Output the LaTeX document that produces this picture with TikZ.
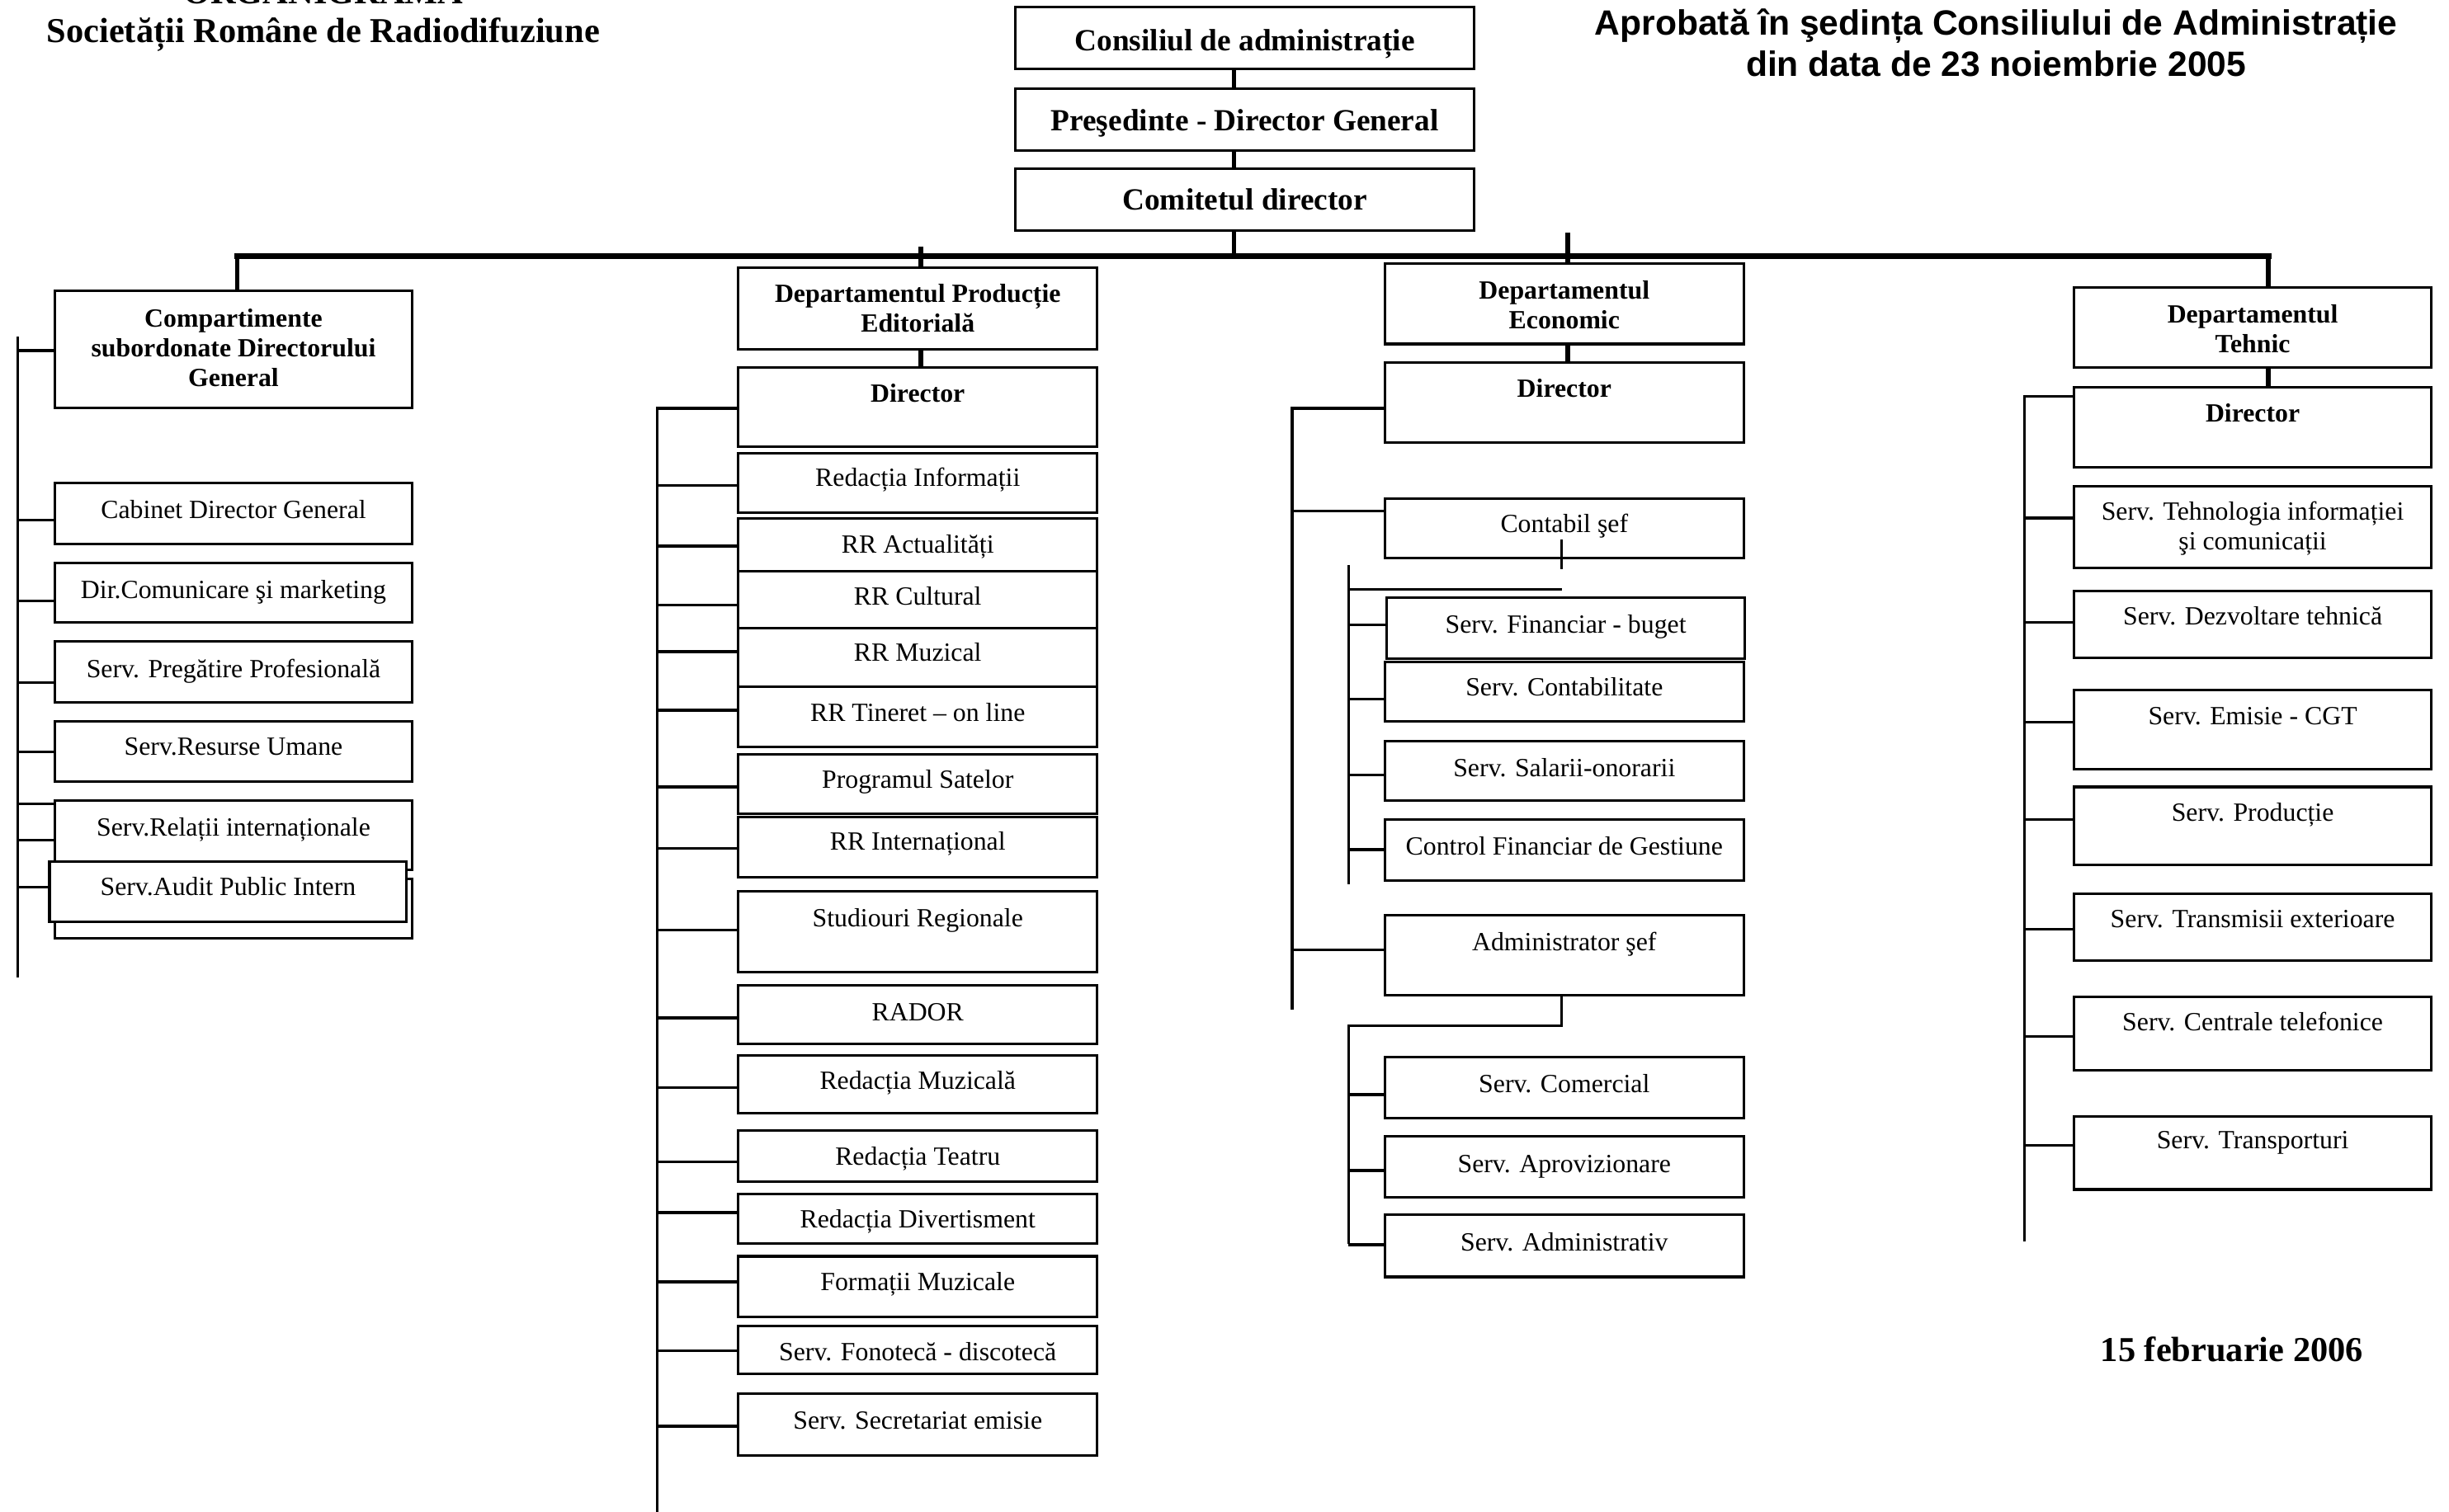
\documentclass[tikz,border=0pt]{standalone}
\usepackage{fontspec}
\setmainfont{Liberation Serif}
\newfontfamily\arialf{Liberation Sans}
\tikzset{
 ob/.style={draw, line width=1.6pt, fill=white, inner sep=0pt, outer sep=0pt, anchor=north west},
 tx/.style={inner sep=0pt, anchor=north, yshift=8.3pt, align=center, font=\fontsize{16.8}{19}\selectfont},
 txb/.style={tx, font=\fontsize{16.8}{19}\selectfont\bfseries},
 txt/.style={inner sep=0pt, anchor=north, yshift=10.1pt, align=center, font=\fontsize{19.7}{23}\selectfont\bfseries},
 conn/.style={line width=1.7pt},
 tconn/.style={line width=3pt},
 busl/.style={line width=3.8pt, line cap=rect},
}
\newcommand\obox[8][tx]{%
  \node[ob, minimum width={(#5-#3)*1pt}, minimum height={(#6-#4)*1pt}] (#2) at (#3,#4) {};
  \node[#1] (#2-t) at ({(#3+#5)/2},#7) {\strut #8};
}
\begin{document}
\begin{tikzpicture}[x=1pt,y=-1pt]
\useasboundingbox (0,0) rectangle (1568,968);
\fill[white] (0,0) rectangle (1568,968);
\clip (0,0) rectangle (1568,968);

% titles
\node[inner sep=0pt, anchor=north, align=center, font=\fontsize{22.4}{25}\selectfont\bfseries] (title) at (207,-15.5) {\strut ORGANIGRAMA\\Societății Române de Radiodifuziune};
\node[inner sep=0pt, anchor=north, align=center, font=\arialf\fontsize{22.5}{26}\selectfont\bfseries] (approved) at (1278,4.3) {\strut Aprobată în şedința Consiliului de Administrație\\din data de 23 noiembrie 2005};
\node[inner sep=0pt, anchor=base, font=\fontsize{22.4}{25}\selectfont\bfseries] (date) at (1429,872) {15 februarie 2006};

% top chain
\obox[txt]{cons}{650}{4.4}{944}{44}{26.4}{Consiliul de administrație}
\obox[txt]{pres}{650}{57}{944}{96.5}{77.5}{Preşedinte - Director General}
\obox[txt]{comit}{650}{108}{944}{147.5}{128}{Comitetul director}
\coordinate (tTop) at (790,164);
\draw[tconn] (cons.south -| tTop) -- (pres.north -| tTop);
\draw[tconn] (pres.south -| tTop) -- (comit.north -| tTop);
\draw[tconn] (comit.south -| tTop) -- (tTop);

% department headers
\obox[txb]{hdrA}{35}{186}{264}{261}{204.3}{Compartimente\\subordonate Directorului\\General}
\obox[txb]{hdrB}{472.6}{171.6}{702.6}{223.5}{188.6}{Departamentul Producție\\Editorială}
\obox[txb]{hdrC}{886.5}{168.7}{1116.6}{220.3}{186.3}{Departamentul\\Economic}
\obox[txb]{hdrD}{1327.8}{183.9}{1556.8}{235.5}{201.8}{Departamentul\\Tehnic}

% main bus
\coordinate (busL) at (151.8,164);
\coordinate (busR) at (1452.3,164);
\draw[busl] (busL) -- (busR);
\draw[tconn] (busL) -- (hdrA.north -| busL);
\draw[tconn] (busR) -- (hdrD.north -| busR);
\coordinate (tB) at (589.6,158);
\coordinate (tC) at (1003.8,149);
\draw[tconn] (tB) -- (tB |- hdrB.north);
\draw[tconn] (tC) -- (tC |- hdrC.north);

% ---------- column A
\obox{cab}{35}{309.5}{264}{348.3}{326.8}{Cabinet Director General}
\obox{dircom}{35}{360.4}{264}{398.7}{378}{Dir.Comunicare şi marketing}
\obox{preg}{35}{410.9}{264}{449.7}{429}{Serv. Pregătire Profesională}
\obox{resurse}{35}{461.8}{264}{500.6}{478.6}{Serv.Resurse Umane}
\obox{relatii}{35}{512.7}{264}{557}{530.4}{Serv.Relații internaționale}
\node[ob, minimum width=229pt, minimum height=38pt] (ghost) at (35,563) {};
\obox{audit}{31.7}{552}{260.4}{590.4}{568.4}{Serv.Audit Public Intern}
\coordinate (aTop) at (11.3,215.7);
\coordinate (aBot) at (11.3,626);
\draw[conn] (aTop) -- (aBot);
\foreach \n/\y in {hdrA/224.5, cab/333, dircom/384.8, preg/437, resurse/481.7, relatii/515, relatii/538, audit/568}
  \draw[conn] (aTop |- 0,\y) -- (\n.west |- 0,\y);

% ---------- column B
\obox[txb]{dirB}{472.6}{235.4}{702.6}{286}{252.6}{Director}
\draw[tconn] (hdrB.south -| tB) -- (dirB.north -| tB);
\obox{redinf}{472.6}{290.3}{702.6}{328.5}{306.4}{Redacția Informații}
\obox{rract}{472.6}{331.8}{702.6}{366}{349}{RR Actualități}
\obox{rrcult}{472.6}{366}{702.6}{402.3}{382.5}{RR Cultural}
\obox{rrmuz}{472.6}{402.3}{702.6}{439.6}{418.4}{RR Muzical}
\obox{rrtin}{472.6}{439.6}{702.6}{478.6}{456.7}{RR Tineret – on line}
\obox{progsat}{472.6}{482.9}{702.6}{521}{499.6}{Programul Satelor}
\obox{rrint}{472.6}{523.2}{702.6}{562}{539.4}{RR Internațional}
\obox{studreg}{472.6}{571}{702.6}{622.8}{588.5}{Studiouri Regionale}
\obox{rador}{472.6}{631.3}{702.6}{668.8}{648.5}{RADOR}
\obox{redmuz}{472.6}{676}{702.6}{713}{692.6}{Redacția Muzicală}
\obox{redteatru}{472.6}{724}{702.6}{757}{741}{Redacția Teatru}
\obox{reddiv}{472.6}{764.7}{702.6}{796.6}{781.3}{Redacția Divertisment}
\obox{formatii}{472.6}{804.6}{702.6}{843.4}{821.5}{Formații Muzicale}
\obox{fonoteca}{472.6}{849}{702.6}{880}{866.4}{Serv. Fonotecă - discotecă}
\obox{secret}{472.6}{892.8}{702.6}{932}{910}{Serv. Secretariat emisie}
\coordinate (bTop) at (420.7,261.5);
\coordinate (bBot) at (420.7,975);
\draw[conn] (bBot) -- (bTop) -- (dirB.west |- bTop);
\foreach \n/\y in {redinf/310.9, rract/349.7, rrcult/387.6, rrmuz/417.3, rrtin/454.9, progsat/504, rrint/543.4, studreg/595.6, rador/651.9, redmuz/696.5, redteatru/744.3, reddiv/776.6, formatii/821, fonoteca/865, secret/913.4}
  \draw[conn] (bTop |- 0,\y) -- (\n.west |- 0,\y);

% ---------- column C
\obox[txb]{dirC}{886.5}{232.4}{1116.6}{283.4}{249.4}{Director}
\draw[tconn] (hdrC.south -| tC) -- (dirC.north -| tC);
\obox{contabil}{886.5}{319.3}{1116.6}{357.6}{336}{Contabil şef}
\obox{finbuget}{888}{383}{1117}{422}{400.4}{Serv. Financiar - buget}
\obox{contab}{886.5}{423.9}{1116.6}{462}{440.5}{Serv. Contabilitate}
\obox{salarii}{886.5}{474.5}{1116.6}{512.8}{492.2}{Serv. Salarii-onorarii}
\obox{control}{886.5}{525}{1116.6}{563.8}{542.4}{Control Financiar de Gestiune}
\obox{admin}{886.5}{585.9}{1116.6}{637.5}{603.9}{Administrator şef}
\obox{comercial}{886.5}{677}{1116.6}{716.3}{694.7}{Serv. Comercial}
\obox{aprov}{886.5}{727.8}{1116.6}{766.9}{745.7}{Serv. Aprovizionare}
\obox{administrativ}{886.5}{778}{1116.6}{817.8}{796}{Serv. Administrativ}
\coordinate (cTop) at (827.3,261.5);
\coordinate (cBot) at (827.3,646.6);
\draw[conn] (cBot) -- (cTop) -- (dirC.west |- cTop);
\draw[conn] (cTop |- 0,327.3) -- (contabil.west |- 0,327.3);
\draw[conn] (cTop |- 0,608.4) -- (admin.west |- 0,608.4);
\coordinate (kC1) at (1000,345.6);
\coordinate (kC2) at (1000,364.6);
\draw[conn] (kC1) -- (kC2);
\coordinate (s1Top) at (863.3,361.9);
\coordinate (s1Bot) at (863.3,566.4);
\coordinate (s1H) at (999.8,377.4);
\draw[conn] (s1Top) -- (s1Bot);
\draw[conn] (s1Top |- s1H) -- (s1H);
\foreach \n/\y in {finbuget/400.2, contab/447.7, salarii/496.2, control/544.1}
  \draw[conn] (s1Top |- 0,\y) -- (\n.west |- 0,\y);
\coordinate (s2) at (863.3,656.8);
\coordinate (s2Bot) at (863.3,796.8);
\draw[conn] (admin.south -| kC1) -- (kC1 |- s2) -- (s2) -- (s2Bot);
\foreach \n/\y in {comercial/701, aprov/749.6, administrativ/797.2}
  \draw[conn] (s2 |- 0,\y) -- (\n.west |- 0,\y);

% ---------- column D
\obox[txb]{dirD}{1327.8}{247.8}{1556.8}{299.5}{264.9}{Director}
\draw[tconn] (hdrD.south -| busR) -- (dirD.north -| busR);
\obox{tehinfo}{1327.8}{311.4}{1556.8}{363.5}{328}{Serv. Tehnologia informației\\şi comunicații}
\obox{dezv}{1327.8}{378.7}{1556.8}{421.2}{395}{Serv. Dezvoltare tehnică}
\obox{emisie}{1327.8}{442}{1556.8}{492.7}{458.8}{Serv. Emisie - CGT}
\obox{productie}{1327.8}{504}{1556.8}{554}{520.6}{Serv. Producție}
\obox{transmisii}{1327.8}{572.5}{1556.8}{615.3}{589}{Serv. Transmisii exterioare}
\obox{centrale}{1327.8}{638.2}{1556.8}{685.7}{655}{Serv. Centrale telefonice}
\obox{transport}{1327.8}{714.8}{1556.8}{761.8}{730.6}{Serv. Transporturi}
\coordinate (dTop) at (1296,253.8);
\coordinate (dBot) at (1296,795.3);
\draw[conn] (dBot) -- (dTop) -- (dirD.west |- dTop);
\foreach \n/\y in {tehinfo/331.8, dezv/398.8, emisie/462.5, productie/525, transmisii/595.1, centrale/663.9, transport/733.6}
  \draw[conn] (dTop |- 0,\y) -- (\n.west |- 0,\y);
\end{tikzpicture}
\end{document}
